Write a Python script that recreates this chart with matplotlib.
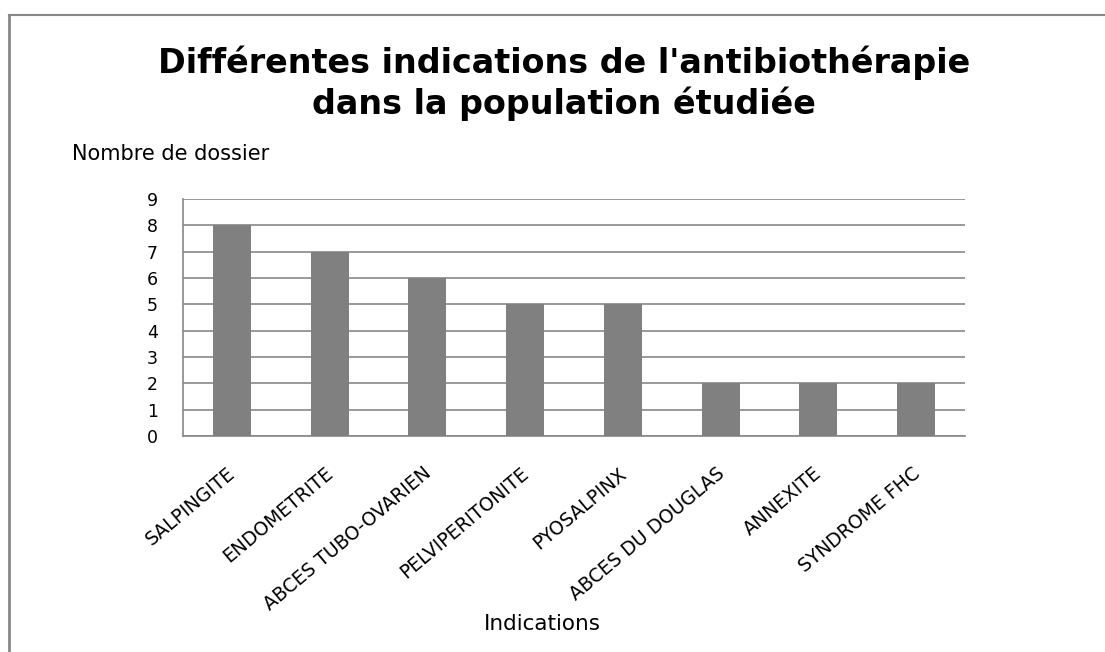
import matplotlib
matplotlib.use("Agg")
import matplotlib.pyplot as plt
from matplotlib.lines import Line2D
from matplotlib.transforms import ScaledTranslation

categories = ["SALPINGITE", "ENDOMETRITE", "ABCES TUBO-OVARIEN", "PELVIPERITONITE",
              "PYOSALPINX", "ABCES DU DOUGLAS", "ANNEXITE", "SYNDROME FHC"]
values = [8, 7, 6, 5, 5, 2, 2, 2]
yticks = list(range(0, 10))

W, H = 1105, 652
fig = plt.figure(figsize=(W / 100, H / 100), dpi=100)
fig.patch.set_facecolor("white")

ax = fig.add_axes([183 / W, 1 - 436 / H, (965 - 183) / W, (436 - 199) / H])
x = list(range(len(categories)))
ax.bar(x, values, width=0.39, color="#808080", zorder=3)
ax.set_xlim(-0.5, len(categories) - 0.5)
ax.set_ylim(0, 9)
ax.set_yticks(yticks)
ax.set_yticklabels([str(t) for t in yticks], fontsize=12.5, family="DejaVu Sans")
ax.set_xticks(x)
ax.set_xticklabels(categories, rotation=40, ha="right", rotation_mode="anchor",
                   fontsize=13.5, family="DejaVu Sans")
ax.tick_params(axis="y", length=0, pad=18)
ax.tick_params(axis="x", length=0, pad=20)
shift = ScaledTranslation(-5 / 100, 0, fig.dpi_scale_trans)
for lbl in ax.get_xticklabels():
    lbl.set_transform(lbl.get_transform() + shift)
ax.yaxis.grid(True, color="#888888", linewidth=1.2, zorder=0)
ax.set_axisbelow(True)
for s in ["top", "right"]:
    ax.spines[s].set_visible(False)
for s in ["left", "bottom"]:
    ax.spines[s].set_color("#888888")
    ax.spines[s].set_linewidth(1.2)

fig.text(564 / W, 1 - 63 / H, "Différentes indications de l'antibiothérapie",
         ha="center", va="center", fontsize=24, fontweight="bold", family="DejaVu Sans")
fig.text(564 / W, 1 - 104 / H, "dans la population étudiée",
         ha="center", va="center", fontsize=24, fontweight="bold", family="DejaVu Sans")
fig.text(72 / W, 1 - 154 / H, "Nombre de dossier", ha="left", va="center",
         fontsize=15, family="DejaVu Sans")
fig.text(542 / W, 1 - 624 / H, "Indications", ha="center", va="center",
         fontsize=15.5, family="DejaVu Sans")

fig.add_artist(Line2D([9 / W, 9 / W], [0, 1 - 15 / H], transform=fig.transFigure,
                      color="#888888", linewidth=2))
fig.add_artist(Line2D([9 / W, 1], [1 - 15 / H, 1 - 15 / H], transform=fig.transFigure,
                      color="#888888", linewidth=1.5))

fig.savefig("out.png", dpi=100)
